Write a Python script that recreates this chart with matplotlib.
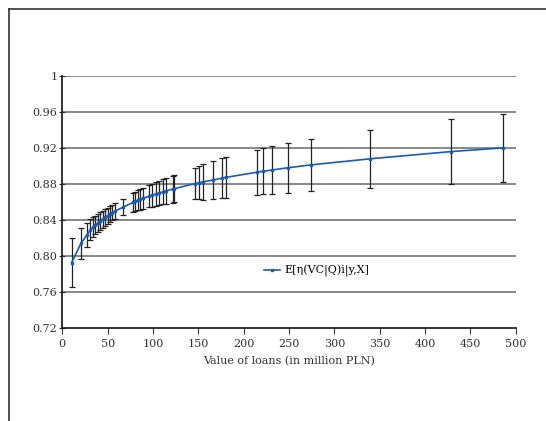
import matplotlib
matplotlib.use("Agg")
import matplotlib.pyplot as plt
from matplotlib.lines import Line2D

LINE_COLOR = "#1C5BAE"
GRID_COLOR = "#7F7F7F"

loans = [10.3, 20.6, 26.9, 31.0, 33.7, 36.4, 39.1, 41.8, 44.5, 47.2, 49.9,
         52.6, 55.3, 58.0, 66.6, 78.3, 80.6, 83.3, 86.2, 89.0, 95.6, 98.6,
         103.3, 106.6, 111.4, 114.3, 121.7, 123.5, 146.5, 150.7, 154.8, 166.5,
         176.4, 180.2, 214.3, 221.6, 230.9, 248.5, 273.9, 339.6, 428.5, 485.5]
efficiency = [0.7926, 0.814, 0.823, 0.8291, 0.8318, 0.8344, 0.8367, 0.839,
              0.841, 0.843, 0.8448, 0.8466, 0.8482, 0.8498, 0.854, 0.8597,
              0.8607, 0.8618, 0.8629, 0.864, 0.8663, 0.8674, 0.8689, 0.8699,
              0.8714, 0.8723, 0.8743, 0.8748, 0.8805, 0.8814, 0.8823, 0.8845,
              0.8866, 0.8873, 0.893, 0.8942, 0.8955, 0.898, 0.9012, 0.908,
              0.916, 0.9201]
error = [0.027, 0.017, 0.0135, 0.0115, 0.011, 0.0105, 0.010, 0.0098, 0.0095,
         0.0092, 0.009, 0.0088, 0.0087, 0.0086, 0.0088, 0.0105, 0.0108, 0.011,
         0.0113, 0.0116, 0.0122, 0.0125, 0.013, 0.0133, 0.0138, 0.0141,
         0.0149, 0.015, 0.0175, 0.0185, 0.020, 0.021, 0.022, 0.0225, 0.025,
         0.0255, 0.0265, 0.0275, 0.029, 0.032, 0.036, 0.038]

yticks = [0.72, 0.76, 0.80, 0.84, 0.88, 0.92, 0.96, 1.0]
ytick_labels = ["0.72", "0.76", "0.80", "0.84", "0.88", "0.92", "0.96", "1"]
xticks = list(range(0, 501, 50))

plt.rcParams["font.family"] = "DejaVu Serif"
plt.rcParams["font.size"] = 8

fig = plt.figure(figsize=(5.46, 4.21), dpi=100)
ax = fig.add_axes([0.1141, 0.2209, 0.8304, 0.5986])

# chart area border (cut off at right and bottom)
fig.add_artist(Line2D([9 / 546, 1], [1 - 9 / 421, 1 - 9 / 421],
                      transform=fig.transFigure, color="#333333", lw=1.2))
fig.add_artist(Line2D([9 / 546, 9 / 546], [0, 1 - 9 / 421],
                      transform=fig.transFigure, color="#333333", lw=1.2))

for yv in yticks[1:]:
    ax.axhline(yv, color=GRID_COLOR, lw=1.3, zorder=1)

ax.errorbar(loans, efficiency, yerr=error, fmt="none", ecolor="#222222",
            elinewidth=0.9, capsize=2.5, capthick=0.9, zorder=2)
ax.plot(loans, efficiency, color=LINE_COLOR, lw=1.2, marker="s",
        markersize=1.8, label="E[η(VC|Q)i|y,X]", zorder=3)

ax.set_xlim(0, 500)
ax.set_ylim(0.72, 1.0)
ax.set_xticks(xticks)
ax.set_yticks(yticks)
ax.set_yticklabels(ytick_labels)
ax.tick_params(axis="x", direction="out", length=4, width=0.8, pad=4,
               colors="#333333", labelcolor="#333333")
ax.tick_params(axis="y", direction="inout", length=5, width=0.8, pad=1,
               colors="#333333", labelcolor="#333333")

for side in ["top", "right"]:
    ax.spines[side].set_visible(False)
for side in ["left", "bottom"]:
    ax.spines[side].set_color("#111111")
    ax.spines[side].set_linewidth(1.2)

ax.set_xlabel("Value of loans (in million PLN)", color="#333333", labelpad=5)

ax.legend(loc="center", bbox_to_anchor=(0.561, 0.226), frameon=False,
          handlelength=1.5, handletextpad=0.4, fontsize=8)

fig.savefig("out.png", dpi=100)
